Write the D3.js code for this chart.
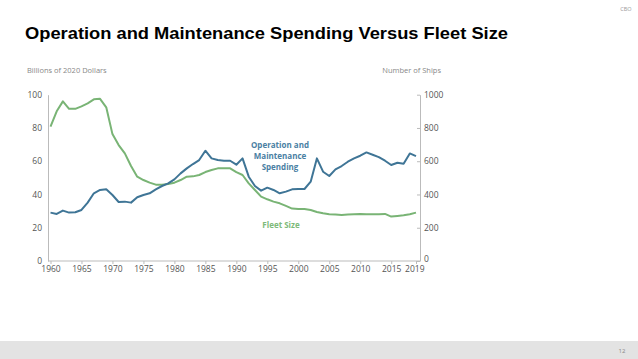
<!DOCTYPE html>
<html><head><meta charset="utf-8">
<script src="https://cdn.jsdelivr.net/npm/d3@7"></script>
<style>body{margin:0;background:#fff}svg{display:block}</style>
</head><body>
<svg id="c" width="638" height="359"></svg>
<script>
const years = d3.range(1960, 2020);
const spending = [29.1,28.3,30.3,29.1,29.3,30.7,35.1,40.7,42.7,43.1,39.7,35.5,35.7,35.1,38.3,39.7,40.7,43.1,45.1,46.7,
  49.1,52.7,55.7,58.3,60.7,66.3,61.7,60.7,60.3,60.3,57.9,61.7,50.7,45.1,42.3,44.1,42.7,40.7,41.7,43.1,
  43.3,43.3,47.7,61.7,53.7,51.1,55.1,57.1,59.7,61.7,63.3,65.3,63.9,62.5,60.3,57.7,59.1,58.5,64.7,63.1];
const fleet = [808,900,960,915,915,930,948,972,975,924,763,697,647,571,507,487,471,459,459,463,
  471,487,507,509,517,535,547,557,557,557,534,517,467,427,387,371,357,347,331,315,
  313,313,307,295,287,281,279,277,279,281,283,281,281,281,283,267,271,275,281,291];
const xTicks = [1960,1965,1970,1975,1980,1985,1990,1995,2000,2005,2010,2015,2019];
const leftTicks = [0,20,40,60,80,100];
const rightTicks = [0,200,400,600,800,1000];

const svg = d3.select("#c");
const font = "'Open Sans', 'Liberation Sans', Arial, sans-serif";
const x = d3.scaleLinear().domain([1960, 2019]).range([50.5, 416]);
const yL = d3.scaleLinear().domain([0, 100]).range([261, 94.7]);
const yR = d3.scaleLinear().domain([0, 1000]).range([261, 94.7]);

// footer
svg.append("rect").attr("x",0).attr("y",341).attr("width",638).attr("height",18).attr("fill","#e3e3e3");
svg.append("text").attr("x",622).attr("y",353).attr("text-anchor","middle").attr("font-family",font)
  .attr("font-size",6).attr("fill","#888").text("12");
svg.append("text").attr("x",626).attr("y",11).attr("text-anchor","middle").attr("font-family",font)
  .attr("font-size",5.5).attr("fill","#999").text("CBO");

// title
svg.append("text").attr("x",25).attr("y",39).attr("font-family","'Liberation Sans', Arial, sans-serif")
  .attr("font-weight","bold").attr("font-size",17).attr("fill","#000")
  .attr("textLength",483).attr("lengthAdjust","spacingAndGlyphs")
  .text("Operation and Maintenance Spending Versus Fleet Size");

// axis titles
svg.append("text").attr("x",27).attr("y",73).attr("font-family",font).attr("font-size",7.5).attr("fill","#888")
  .text("Billions of 2020 Dollars");
svg.append("text").attr("x",441).attr("y",73).attr("text-anchor","end").attr("font-family",font).attr("font-size",7.5).attr("fill","#888")
  .text("Number of Ships");

const axisColor = "#bbb";
// left axis
const gl = svg.append("g").attr("transform","translate(48,0)")
  .call(d3.axisLeft(yL).tickValues(leftTicks).tickSize(0).tickPadding(6));
gl.select(".domain").attr("stroke",axisColor);
gl.selectAll("text").attr("font-family",font).attr("font-size",8.5).attr("fill","#555");

// right axis
const gr = svg.append("g").attr("transform","translate(420,0)")
  .call(d3.axisRight(yR).tickValues(rightTicks).tickFormat(d3.format("d")).tickSizeInner(-3).tickSizeOuter(0).tickPadding(4));
gr.select(".domain").attr("stroke",axisColor);
gr.selectAll("line").attr("stroke",axisColor);
gr.selectAll("text").attr("font-family",font).attr("font-size",8.5).attr("fill","#555");
gr.selectAll(".tick").filter(d=>d===0).select("text").attr("dy","0.1em");

// bottom axis
svg.append("line").attr("x1",48).attr("x2",420).attr("y1",261).attr("y2",261).attr("stroke",axisColor);
const gb = svg.append("g").attr("transform","translate(0,261)")
  .call(d3.axisBottom(x).tickValues(xTicks).tickFormat(d3.format("d")).tickSize(3).tickSizeOuter(0).tickPadding(2));
gb.select(".domain").remove();
gb.selectAll("line").attr("stroke",axisColor);
gb.selectAll("text").attr("font-family",font).attr("font-size",8.5).attr("fill","#555");
gb.selectAll(".tick").filter(d=>d===2019).select("text").attr("dx","-0.2em");

// lines
const blue = "#3f7596", green = "#79b475";
svg.append("path").datum(years.map((yr,i)=>[yr,fleet[i]]))
  .attr("d", d3.line().x(d=>x(d[0])).y(d=>yR(d[1])))
  .attr("fill","none").attr("stroke",green).attr("stroke-width",2).attr("stroke-linejoin","round");
svg.append("path").datum(years.map((yr,i)=>[yr,spending[i]]))
  .attr("d", d3.line().x(d=>x(d[0])).y(d=>yL(d[1])))
  .attr("fill","none").attr("stroke",blue).attr("stroke-width",2).attr("stroke-linejoin","round");

// annotations
const ann = svg.append("text").attr("font-family",font).attr("font-weight","bold").attr("font-size",8)
  .attr("fill","#4a80a3").attr("text-anchor","middle");
["Operation and","Maintenance","Spending"].forEach((t,i)=>{
  ann.append("tspan").attr("x",280).attr("y",148+i*11).text(t);
});
svg.append("text").attr("x",281).attr("y",228).attr("font-family",font).attr("font-weight","bold").attr("font-size",8)
  .attr("fill","#7dba79").attr("text-anchor","middle").text("Fleet Size");
</script>
</body></html>
